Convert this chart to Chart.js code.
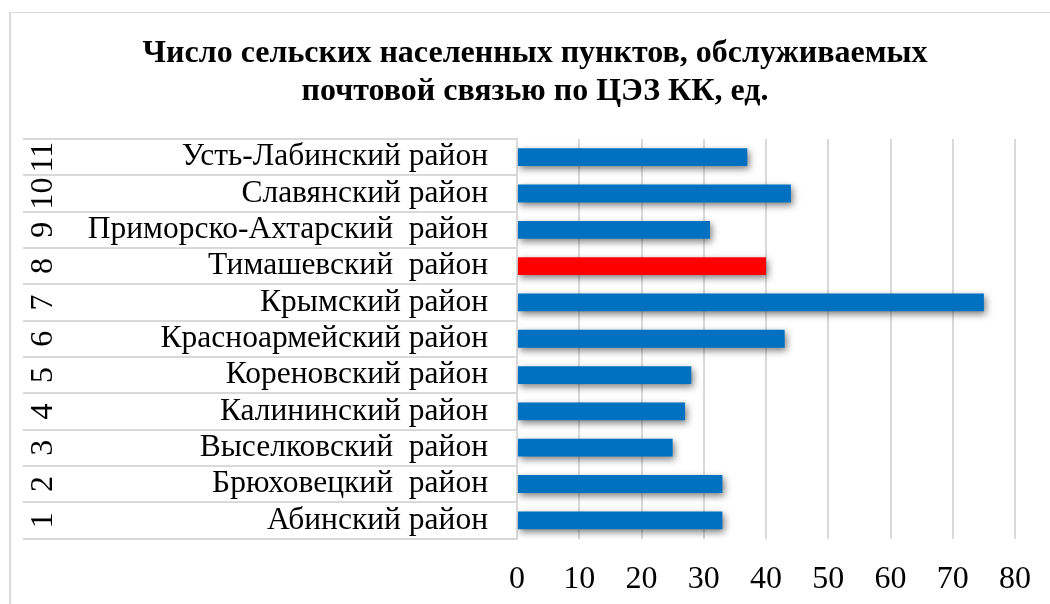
<!DOCTYPE html>
<html><head><meta charset="utf-8">
<script src="https://cdn.jsdelivr.net/npm/chart.js@4/dist/chart.umd.min.js"></script>
<style>
html,body{margin:0;padding:0;background:#fff;overflow:hidden;width:1050px;height:604px;}
#frame{position:absolute;left:9px;top:12px;width:1200px;height:800px;border-left:2px solid #d9d9d9;border-top:1px solid #d9d9d9;}
#wrap{position:absolute;left:10px;top:13px;width:1050px;height:600px;}
</style></head>
<body>
<div id="frame"></div>
<div id="wrap"><canvas id="c" width="1050" height="600"></canvas></div>
<script>
// ---- data (bottom to top, as numbered) ----
const rowNumbers = ['1','2','3','4','5','6','7','8','9','10','11'];
const districts = [
  'Абинский район',
  'Брюховецкий  район',
  'Выселковский  район',
  'Калининский район',
  'Кореновский район',
  'Красноармейский район',
  'Крымский район',
  'Тимашевский  район',
  'Приморско-Ахтарский  район',
  'Славянский район',
  'Усть-Лабинский район'
];
const settlements = [33, 33, 25, 27, 28, 43, 75, 40, 31, 44, 37];
const highlighted = ['Тимашевский  район'];
const xMin = 0, xMax = 80, xStep = 10;
const titleLines = ['Число сельских населенных пунктов, обслуживаемых', 'почтовой связью по ЦЭЗ КК, ед.'];

const FONT = "'Liberation Serif', 'Times New Roman', serif";
const GRID = '#d9d9d9';

const shadowPlugin = {
  id: 'barShadow',
  beforeDatasetsDraw(chart) {
    const ctx = chart.ctx;
    ctx.save();
    ctx.shadowColor = 'rgba(0,0,0,0.5)';
    ctx.shadowBlur = 7;
    ctx.shadowOffsetX = 2;
    ctx.shadowOffsetY = 3;
  },
  afterDatasetsDraw(chart) { chart.ctx.restore(); }
};

new Chart(document.getElementById('c'), {
  type: 'bar',
  data: {
    labels: districts,
    datasets: [{
      data: settlements,
      backgroundColor: ctx => highlighted.includes(districts[ctx.dataIndex]) ? '#FF0000' : '#0070C0',
      borderWidth: 0,
      barPercentage: 0.49,
      categoryPercentage: 1.0,
      yAxisID: 'y'
    }]
  },
  options: {
    indexAxis: 'y',
    responsive: false,
    animation: false,
    devicePixelRatio: 1,
    layout: { padding: { left: 0, right: 0, top: 0, bottom: 0 } },
    plugins: {
      legend: { display: false },
      tooltip: { enabled: false },
      title: {
        display: true,
        text: titleLines,
        color: '#000',
        font: { family: FONT, size: 32, weight: 'bold', lineHeight: 38 / 32 },
        padding: { top: 22, bottom: 28 }
      }
    },
    scales: {
      x: {
        type: 'linear',
        position: 'bottom',
        min: xMin, max: xMax,
        ticks: { stepSize: xStep, color: '#000', font: { family: FONT, size: 32 }, padding: 22 },
        grid: { color: GRID, lineWidth: 2, drawTicks: false },
        border: { display: false },
        afterFit: s => { s.height = 74.5; }
      },
      y: {
        type: 'category',
        axis: 'y',
        position: 'left',
        weight: 1,
        reverse: true,
        offset: true,
        ticks: { color: '#000', font: { family: FONT, size: 31.5 }, padding: -406, crossAlign: 'near', autoSkip: false },
        grid: { display: true, offset: true, drawOnChartArea: false, drawTicks: true, tickLength: 435, color: GRID, lineWidth: 2 },
        border: { display: true, color: GRID, width: 2 },
        afterFit: s => { s.width = 435; }
      },
      yNum: {
        type: 'category',
        axis: 'y',
        position: 'left',
        weight: 2,
        labels: rowNumbers,
        reverse: true,
        offset: true,
        ticks: { color: '#000', font: { family: FONT, size: 32 }, padding: -36.5, crossAlign: 'center', minRotation: 90, maxRotation: 90, autoSkip: false },
        grid: { display: true, offset: true, drawOnChartArea: false, drawTicks: true, tickLength: 59, color: GRID, lineWidth: 2 },
        border: { display: false },
        afterFit: s => { s.width = 72; }
      },
      yRight: {
        type: 'category',
        axis: 'y',
        position: 'right',
        display: true,
        ticks: { display: false },
        grid: { display: false },
        border: { display: false },
        afterFit: s => { s.width = 45; }
      }
    }
  },
  plugins: [shadowPlugin]
});
</script>
</body></html>
